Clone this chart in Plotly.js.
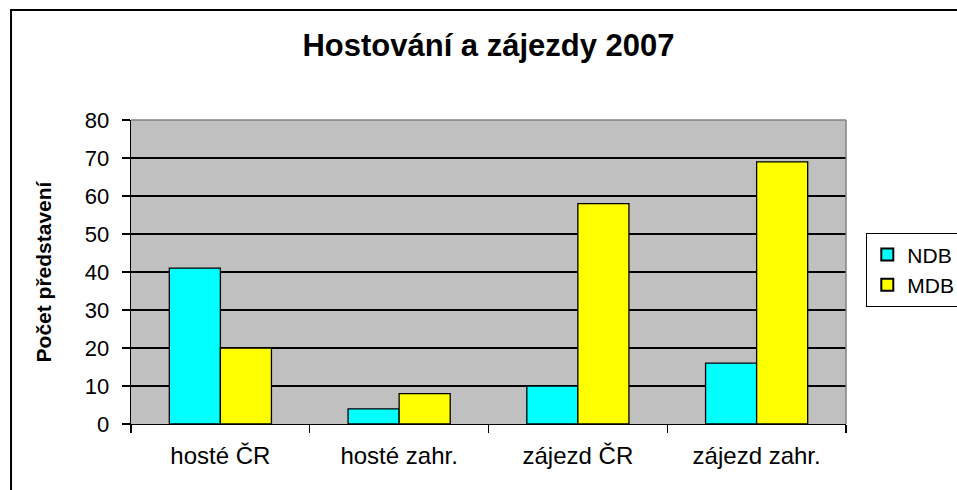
<!DOCTYPE html>
<html>
<head>
<meta charset="utf-8">
<script src="https://cdn.plot.ly/plotly-3.0.1.min.js"></script>
<style>html,body{margin:0;padding:0;background:#fff;}#chart{width:957px;height:490px;}</style>
</head>
<body>
<div id="chart"></div>
<script>
const categories = ["hosté ČR", "hosté zahr.", "zájezd ČR", "zájezd zahr."];
const seriesNames = ["NDB", "MDB"];
const ndbValues = [41, 4, 10, 16];
const mdbValues = [20, 8, 58, 69];
const yTickValues = [0, 10, 20, 30, 40, 50, 60, 70, 80];

const FONT = "Arial, 'Liberation Sans', sans-serif";

const traces = [
  {type: "bar", name: seriesNames[0], x: categories, y: ndbValues,
   marker: {color: "#00FFFF", line: {color: "#000000", width: 1.3}}},
  {type: "bar", name: seriesNames[1], x: categories, y: mdbValues,
   marker: {color: "#FFFF00", line: {color: "#000000", width: 1.3}}}
];

const layout = {
  width: 957, height: 490,
  margin: {l: 131, r: 111, t: 120, b: 66, pad: 0},
  paper_bgcolor: "#FFFFFF",
  plot_bgcolor: "#C0C0C0",
  font: {family: FONT, color: "#000000", size: 21},
  title: {text: "<b>Hostování a zájezdy 2007</b>", font: {family: FONT, size: 31, color: "#000"},
          xref: "paper", x: 0.5, xanchor: "center", yref: "container", y: 1 - 45/490, yanchor: "middle"},
  barmode: "group",
  bargap: 0.4286,
  bargroupgap: 0,
  showlegend: true,
  legend: {xref: "container", yref: "container", x: 866/957, xanchor: "left", y: 1 - 233/490, yanchor: "top",
           bgcolor: "#FFFFFF", bordercolor: "#000000", borderwidth: 1.3,
           font: {family: FONT, size: 21, color: "#000"}, itemsizing: "constant"},
  xaxis: {type: "category", showline: true, linecolor: "#000000", linewidth: 1.3,
          ticks: "outside", tickson: "boundaries", ticklen: 8, tickwidth: 1.3, tickcolor: "#000",
          tickfont: {family: FONT, size: 24, color: "#000"}, ticklabelstandoff: 10,
          showgrid: false, zeroline: false, fixedrange: true, automargin: false},
  yaxis: {range: [0, 80], tickvals: yTickValues, ticktext: yTickValues.map(String),
          showline: true, linecolor: "#000000", linewidth: 1.3,
          ticks: "outside", ticklen: 8, tickwidth: 1.3, tickcolor: "#000",
          tickfont: {family: FONT, size: 22, color: "#000"}, ticklabelstandoff: 8,
          showgrid: true, gridcolor: "#000000", gridwidth: 1.3, zeroline: false,
          title: {text: "<b>Počet představení</b>", font: {family: FONT, size: 21, color: "#000"}, standoff: 27},
          fixedrange: true, automargin: false},
  shapes: [
    {type: "line", xref: "paper", yref: "paper", x0: 0, x1: 1, y0: 1, y1: 1, line: {color: "#808080", width: 1.5}},
    {type: "line", xref: "paper", yref: "paper", x0: 1, x1: 1, y0: 0, y1: 1, line: {color: "#808080", width: 1.5}},
    {type: "rect", xref: "paper", yref: "paper", x0: -0.1678, x1: 1.25, y0: -0.4, y1: 1.3618,
     line: {color: "#000000", width: 2}, fillcolor: "rgba(0,0,0,0)", layer: "above"}
  ]
};

Plotly.newPlot("chart", traces, layout, {displayModeBar: false, staticPlot: true});
</script>
</body>
</html>
